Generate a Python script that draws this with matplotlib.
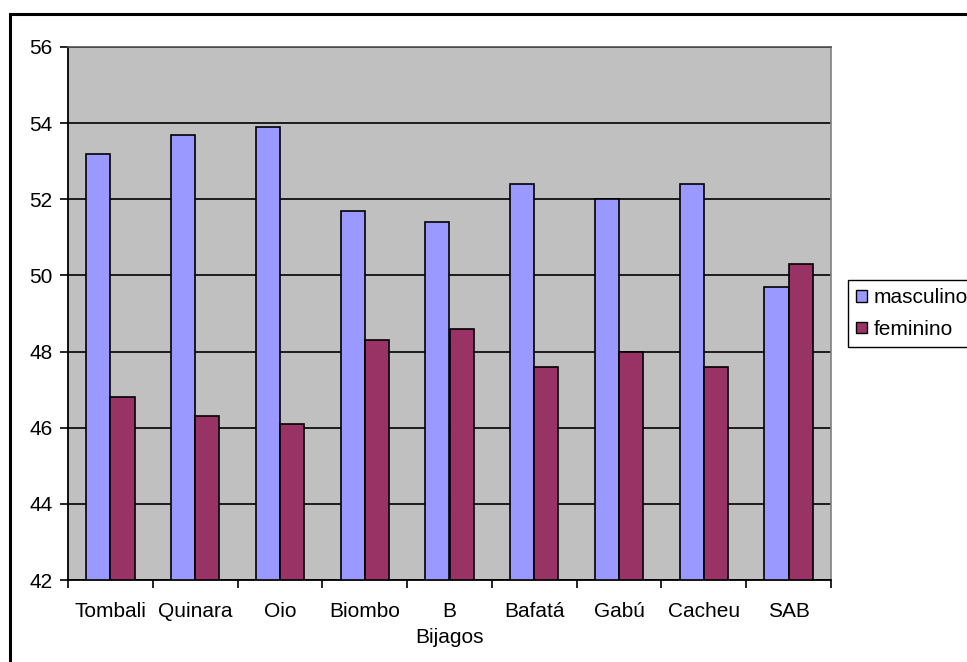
import numpy as np
import matplotlib
matplotlib.use("Agg")
import matplotlib.pyplot as plt
from matplotlib.patches import Patch, Rectangle

# regional sex ratio (%) — masculino vs feminino
regions = ["Tombali", "Quinara", "Oio", "Biombo", "B\nBijagos",
           "Bafatá", "Gabú", "Cacheu", "SAB"]
masculino = [53.2, 53.7, 53.9, 51.7, 51.4, 52.4, 52.0, 52.4, 49.7]
feminino = [46.8, 46.3, 46.1, 48.3, 48.6, 47.6, 48.0, 47.6, 50.3]
yticks = [42, 44, 46, 48, 50, 52, 54, 56]

BLUE = "#9999FF"
PLUM = "#993366"
PLOT_BG = "#C0C0C0"
FS = 15

plt.rcParams["font.family"] = ["Liberation Sans", "DejaVu Sans"]

W, H = 967, 662
fig = plt.figure(figsize=(W / 100, H / 100), dpi=100)
ax = fig.add_axes([68 / W, 1 - 580 / H, (831 - 68) / W, (580 - 47) / H])
ax.set_facecolor(PLOT_BG)

x = np.arange(len(regions))
bw = 0.285
ax.bar(x - bw / 2, [v - yticks[0] for v in masculino], bw, bottom=yticks[0],
       color=BLUE, edgecolor="black", linewidth=1.2, zorder=3, label="masculino")
ax.bar(x + bw / 2, [v - yticks[0] for v in feminino], bw, bottom=yticks[0],
       color=PLUM, edgecolor="black", linewidth=1.2, zorder=3, label="feminino")

ax.set_xlim(-0.5, len(regions) - 0.5)
ax.set_ylim(yticks[0], yticks[-1])
ax.set_yticks(yticks)
ax.yaxis.grid(True, color="black", linewidth=1.2, zorder=1)
ax.set_axisbelow(True)

ax.set_xticks(x)
ax.set_xticklabels(regions, fontsize=FS, linespacing=1.42, va="top")
ax.tick_params(axis="x", length=0, pad=16)
ax.set_xticks(np.arange(len(regions) + 1) - 0.5, minor=True)
ax.tick_params(axis="x", which="minor", length=6, width=1.2, direction="out")
ax.tick_params(axis="y", length=6, width=1.2, direction="out", pad=5, labelsize=FS)

for side in ["left", "bottom"]:
    ax.spines[side].set_color("black")
    ax.spines[side].set_linewidth(1.3)
ax.spines["top"].set_color("#555555")
ax.spines["top"].set_linewidth(1.2)
ax.spines["right"].set_color("#808080")
ax.spines["right"].set_linewidth(1.2)

# outer chart border (only top and left edges fall inside the image)
fig.patches.append(Rectangle((10 / W, -0.1), 1.2, 1 - 14 / H + 0.1,
                             transform=fig.transFigure, fill=False,
                             edgecolor="black", linewidth=2.2, zorder=0))

handles = [Patch(facecolor=BLUE, edgecolor="black", linewidth=1.0),
           Patch(facecolor=PLUM, edgecolor="black", linewidth=1.0)]
leg = fig.legend(handles, ["masculino", "feminino"], loc="upper left",
                 bbox_to_anchor=(848 / W, 1 - 280 / H), borderaxespad=0,
                 fontsize=FS, frameon=True, fancybox=False, framealpha=1,
                 edgecolor="black", handlelength=0.5, handleheight=0.5,
                 handletextpad=0.35, labelspacing=0.6, borderpad=0.4)
leg.get_frame().set_linewidth(1.0)

fig.savefig("out.png", dpi=100)
